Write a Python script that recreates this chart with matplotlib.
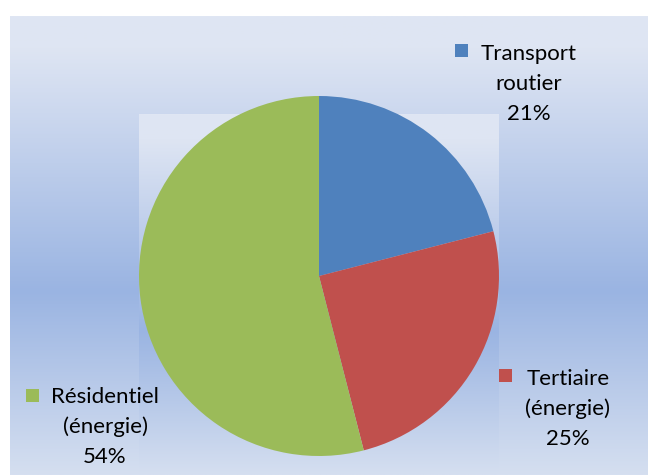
import numpy as np
import matplotlib
matplotlib.use("Agg")
import matplotlib.pyplot as plt
from matplotlib.colors import LinearSegmentedColormap
from matplotlib.patches import Rectangle

# ---- data ----
categories = ["Transport\nroutier", "Tertiaire\n(énergie)", "Résidentiel\n(énergie)"]
shares = [21, 25, 54]
colors = ["#4f81bd", "#c0504d", "#9bbb59"]

W, H = 648, 475
fig = plt.figure(figsize=(W / 100, H / 100), dpi=100)
fig.patch.set_facecolor("white")

# background axes in pixel coordinates (y downward)
bg = fig.add_axes([0, 0, 1, 1])
bg.set_xlim(0, W)
bg.set_ylim(H, 0)
bg.axis("off")

grad = LinearSegmentedColormap.from_list(
    "g", [(0.0, "#dfe6f3"), (0.07, "#dee5f3"), (0.6, "#9ab4e2"), (1.0, "#d5dff0")])
col = np.linspace(0, 1, 256).reshape(-1, 1)
bg.imshow(col, cmap=grad, aspect="auto", extent=[10, W, H, 16], zorder=0, interpolation="bilinear")
bg.imshow(col, cmap=grad, aspect="auto", extent=[139, 499, H, 114], zorder=1, interpolation="bilinear")
bg.set_xlim(0, W)
bg.set_ylim(H, 0)

# pie axes: center (319,276) radius 180 px
cx, cy, r = 319, 276, 180
pax = fig.add_axes([(cx - r) / W, (H - cy - r) / H, 2 * r / W, 2 * r / H])
pax.pie(shares, colors=colors, startangle=90, counterclock=False, radius=1,
        wedgeprops=dict(linewidth=0))
pax.set_xlim(-1, 1)
pax.set_ylim(-1, 1)
pax.set_aspect("equal")
pax.axis("off")

# labels
label_x = [529, 568, 105]
label_base = [60, 385, 403]
square_xy = [(455, 44), (499, 369), (26, 389)]
font = dict(family=["Lato", "DejaVu Sans"], fontsize=16, color="#000000")
for name, val, c, lx, lb, (sx, sy) in zip(categories, shares, colors, label_x, label_base, square_xy):
    lines = name.split("\n") + [f"{val}%"]
    for i, ln in enumerate(lines):
        bg.text(lx, lb + 30 * i, ln, ha="center", va="baseline", zorder=5, **font)
    bg.add_patch(Rectangle((sx, sy), 13, 13, facecolor=c, edgecolor="none", zorder=5))

fig.savefig("out.png", dpi=100)
